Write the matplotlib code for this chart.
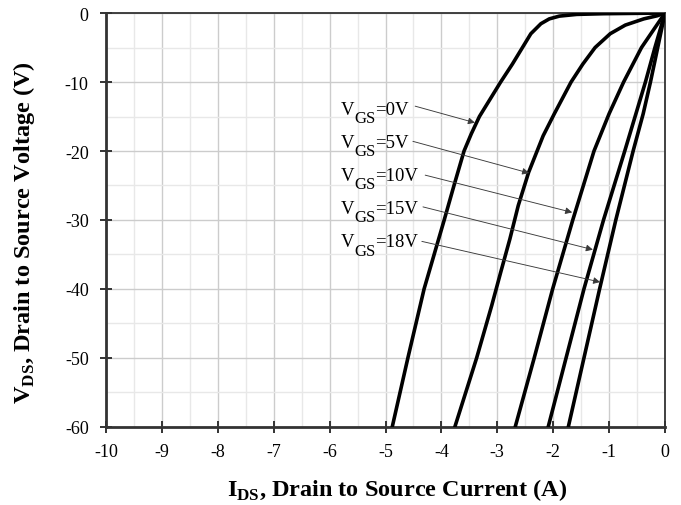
import matplotlib
matplotlib.use("Agg")
import matplotlib.pyplot as plt
from matplotlib.ticker import MultipleLocator

plt.rcParams['font.family'] = ['Liberation Serif', 'DejaVu Serif']
plt.rcParams['mathtext.fontset'] = 'custom'
plt.rcParams['mathtext.rm'] = 'Liberation Serif'
plt.rcParams['mathtext.bf'] = 'Liberation Serif:bold'
plt.rcParams['axes.unicode_minus'] = False

# ---- data ----
vgs_labels = ["0V", "5V", "10V", "15V", "18V"]

v_0 = [0, -0.1, -0.2, -0.45, -0.85, -1.55, -3.0, -5, -7.4, -10, -12.5, -15, -17.5, -20, -25, -30, -35, -40, -50, -60]
i_0 = [0, -1.1, -1.58, -1.89, -2.07, -2.22, -2.40, -2.55, -2.73, -2.94, -3.13, -3.32, -3.465, -3.595, -3.775, -3.95, -4.13, -4.31, -4.60, -4.88]

v_5 = [0, -0.4, -0.85, -1.75, -3.0, -5, -7.4, -10, -14.6, -17.8, -23.1, -27.9, -32.75, -37.6, -42.4, -50, -60]
i_5 = [0, -0.14, -0.38, -0.71, -0.98, -1.25, -1.47, -1.68, -1.98, -2.18, -2.44, -2.625, -2.775, -2.94, -3.10, -3.37, -3.76]

v_10 = [0, -5, -10, -14.6, -20, -30, -40, -50, -60]
i_10 = [0, -0.42, -0.74, -1.0, -1.27, -1.65, -2.01, -2.34, -2.68]

v_15 = [0, -5, -10, -14.6, -20, -30, -40, -50, -60]
i_15 = [0, -0.18, -0.35, -0.52, -0.72, -1.10, -1.45, -1.77, -2.09]

v_18 = [0, -10, -14.6, -20, -30, -40, -50, -60]
i_18 = [0, -0.26, -0.39, -0.57, -0.88, -1.17, -1.45, -1.73]

# annotation text anchors (left, baseline) and arrow tails/heads (current, voltage)
label_text_xy = [(-5.80, -14.6), (-5.80, -19.4), (-5.80, -24.2), (-5.80, -29.0), (-5.80, -33.8)]
arrow_tail_xy = [(-4.47, -13.5), (-4.51, -18.6), (-4.29, -23.5), (-4.33, -28.1), (-4.35, -33.1)]
arrow_head_xy = [(-3.40, -15.9), (-2.43, -23.2), (-1.66, -28.9), (-1.29, -34.3), (-1.16, -39.0)]

x_ticks = list(range(-10, 1))
y_ticks = list(range(-60, 1, 10))

# ---- figure ----
fig = plt.figure(figsize=(6.81, 5.06), dpi=100)
ax = fig.add_axes([0.1557, 0.1542, 0.8208, 0.8181])

for ii, vv in [(i_0, v_0), (i_5, v_5), (i_10, v_10), (i_15, v_15), (i_18, v_18)]:
    ax.plot(ii, vv, color='black', lw=2.6, solid_capstyle='round', solid_joinstyle='round', zorder=3)

for lab, txy, tail, head in zip(vgs_labels, label_text_xy, arrow_tail_xy, arrow_head_xy):
    t1 = ax.text(txy[0], txy[1], 'V', fontsize=13.5, ha='left', va='baseline', zorder=4)
    t2 = ax.annotate('GS', xy=(1, 0), xycoords=t1, xytext=(0, -6), textcoords='offset points',
                     fontsize=12, ha='left', va='bottom', zorder=4)
    t3 = ax.annotate('=' + lab, xy=(1, 0), xycoords=(t2, t1), fontsize=13.5,
                     ha='left', va='bottom', zorder=4)
    ax.annotate('', xy=head, xytext=tail,
                arrowprops=dict(arrowstyle='-|>', color='#3a3a3a', lw=0.65,
                                mutation_scale=10, shrinkA=0, shrinkB=0), zorder=4)

ax.set_xlim(-10, 0)
ax.set_ylim(-60, 0)
ax.set_xticks(x_ticks)
ax.set_yticks(y_ticks)
ax.xaxis.set_minor_locator(MultipleLocator(0.5))
ax.yaxis.set_minor_locator(MultipleLocator(5))
ax.grid(True, which='major', color='#cccccc', lw=1.0, zorder=0)
ax.grid(True, which='minor', color='#e8e8e8', lw=1.0, zorder=0)
ax.set_axisbelow(True)

ax.tick_params(axis='both', which='major', direction='inout', length=9, width=1.4,
               color='#333333', labelsize=13)
ax.tick_params(axis='x', which='major', pad=7)
ax.tick_params(axis='y', which='major', pad=8)
ax.tick_params(axis='both', which='minor', length=0)
ax.tick_params(top=False, right=False)
for side in ['left', 'bottom']:
    ax.spines[side].set_linewidth(2.0)
    ax.spines[side].set_color('#333333')
for side in ['top', 'right']:
    ax.spines[side].set_linewidth(1.3)
    ax.spines[side].set_color('#333333')

ax.set_xlabel(r'I$_{\mathbf{DS}}$, Drain to Source Current (A)', fontsize=17.5, fontweight='bold')
ax.set_ylabel(r'V$_{\mathbf{DS}}$, Drain to Source Voltage (V)', fontsize=17.5, fontweight='bold')
ax.xaxis.set_label_coords(0.52, -0.118)
ax.yaxis.set_label_coords(-0.123, 0.473)

fig.savefig('out.png', dpi=100)
